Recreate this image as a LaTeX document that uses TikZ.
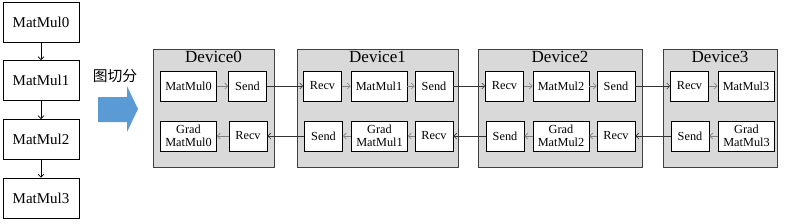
\documentclass[tikz,border=0pt]{standalone}
\usepackage{fontspec}
\setmainfont{Liberation Serif}
\newfontfamily\cjk{Noto Sans CJK SC}
\usetikzlibrary{arrows.meta}
\begin{document}
\begin{tikzpicture}[x=1pt,y=-1pt,
  bigbox/.style={draw=black, line width=0.8pt, fill=white, minimum width=76pt, minimum height=40pt, inner sep=0pt, font=\fontsize{15}{16}\selectfont},
  devbox/.style={draw=black!75, line width=0.9pt, fill=black!15, minimum height=118pt, inner sep=0pt},
  devtitle/.style={inner sep=0pt, font=\fontsize{17}{18}\selectfont},
  sbox/.style={draw=black, line width=0.8pt, fill=white, minimum height=30pt, minimum width=38pt, inner sep=0pt, align=center, font=\fontsize{12.3}{13.5}\selectfont},
  mbox/.style={sbox, minimum width=56pt},
  colarr/.style={draw=black, line width=0.7pt, -{Straight Barb[length=3pt,width=6pt]}},
  inarr/.style={draw=black!50, line width=0.6pt, -{Straight Barb[length=3pt,width=6pt]}},
  outarr/.style={draw=black!80, line width=0.6pt, -{Straight Barb[length=3pt,width=6pt]}}
]
\useasboundingbox (0,0) rectangle (788,223);
\definecolor{bigblue}{HTML}{5B9BD5}

% left column
\node[bigbox] (c0) at (41,22) {MatMul0};
\node[bigbox] (c1) at (41,80.5) {MatMul1};
\node[bigbox] (c2) at (41,139.5) {MatMul2};
\node[bigbox] (c3) at (41,198) {MatMul3};
\draw[colarr] (c0) -- (c1);
\draw[colarr] (c1) -- (c2);
\draw[colarr] (c2) -- (c3);

% split label and arrow
\node[inner sep=0pt, font=\cjk\fontsize{14.8}{16}\selectfont] (lbl) at (115,76) {图切分};
\fill[bigblue] (98,97) -- (127,97) -- (127,86) -- (138,109) -- (127,132) -- (127,122) -- (98,122) -- cycle;

% devices
\node[devbox, minimum width=121pt] (d0) at (213.5,108) {};
\node[devbox, minimum width=161pt] (d1) at (377.5,108) {};
\node[devbox, minimum width=164pt] (d2) at (560,108) {};
\node[devbox, minimum width=114pt] (d3) at (720,108) {};
\node[devtitle] (t0) at ([yshift=-8.5pt]d0.north) {Device0};
\node[devtitle] (t1) at ([yshift=-8.5pt]d1.north) {Device1};
\node[devtitle] (t2) at ([yshift=-8.5pt]d2.north) {Device2};
\node[devtitle] (t3) at ([yshift=-8.5pt]d3.north) {Device3};

% device 0
\node[mbox] (m0) at (188.5,86) {MatMul0};
\node[sbox] (s0) at (247.5,86) {Send};
\node[mbox] (g0) at (188.5,136) {Grad\\MatMul0};
\node[sbox] (r0) at (248,136) {Recv};
% device 1
\node[sbox] (r1) at (322.5,86) {Recv};
\node[mbox] (m1) at (379,86) {MatMul1};
\node[sbox] (s1) at (434,86) {Send};
\node[sbox] (bs1) at (323.5,136) {Send};
\node[mbox] (g1) at (379.5,136) {Grad\\MatMul1};
\node[sbox] (br1) at (434,136) {Recv};
% device 2
\node[sbox] (r2) at (504.5,86) {Recv};
\node[mbox] (m2) at (561,86) {MatMul2};
\node[sbox] (s2) at (616,86) {Send};
\node[sbox] (bs2) at (505,136) {Send};
\node[mbox] (g2) at (561,136) {Grad\\MatMul2};
\node[sbox] (br2) at (616,136) {Recv};
% device 3
\node[sbox] (r3) at (689.5,86) {Recv};
\node[mbox] (m3) at (746,86) {MatMul3};
\node[sbox] (bs3) at (690,136) {Send};
\node[mbox] (g3) at (746.5,136) {Grad\\MatMul3};

% arrows inside devices
\draw[inarr] (m0) -- (s0);
\draw[inarr] (r0) -- (g0);
\draw[inarr] (r1) -- (m1);
\draw[inarr] (m1) -- (s1);
\draw[inarr] (br1) -- (g1);
\draw[inarr] (g1) -- (bs1);
\draw[inarr] (r2) -- (m2);
\draw[inarr] (m2) -- (s2);
\draw[inarr] (br2) -- (g2);
\draw[inarr] (g2) -- (bs2);
\draw[inarr] (r3) -- (m3);
\draw[inarr] (g3) -- (bs3);

% arrows between devices
\draw[outarr] (s0) -- (r1);
\draw[outarr] (s1) -- (r2);
\draw[outarr] (s2) -- (r3);
\draw[outarr] (bs1) -- (r0);
\draw[outarr] (bs2) -- (br1);
\draw[outarr] (bs3) -- (br2);
\end{tikzpicture}
\end{document}
